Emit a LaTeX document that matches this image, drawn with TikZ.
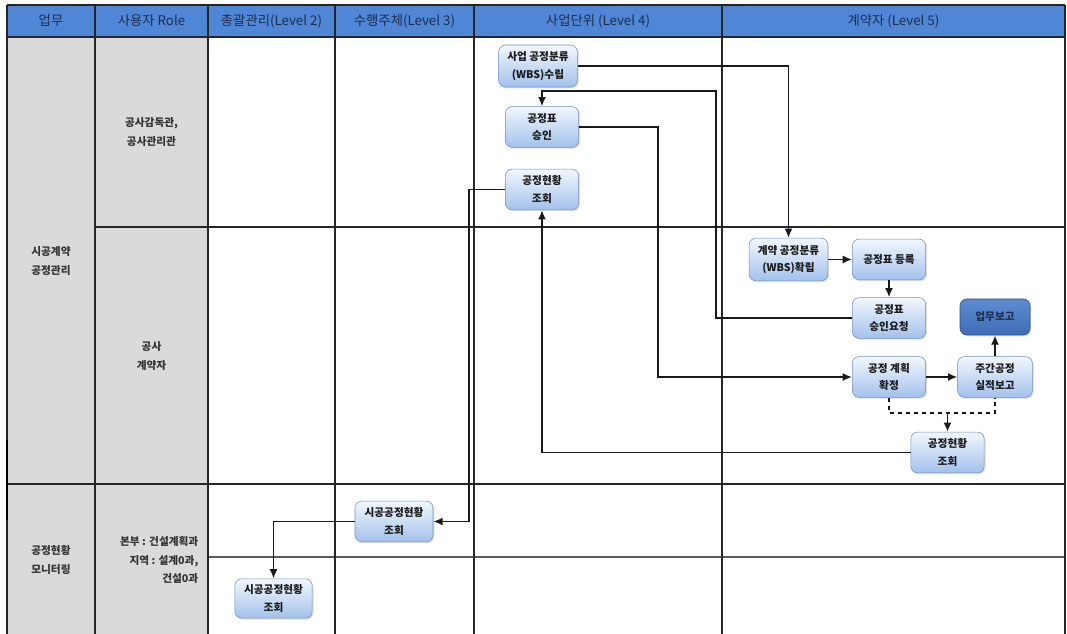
\documentclass[tikz,border=0pt]{standalone}
\usepackage{fontspec}
\setmainfont{Noto Sans CJK KR}
\usetikzlibrary{arrows.meta,shadows,positioning}
\definecolor{headblue}{HTML}{4F86D6}
\definecolor{headtext}{HTML}{1F2D4D}
\definecolor{rolegrey}{HTML}{DADADA}
\definecolor{boxtop}{HTML}{F2F7FD}
\definecolor{boxbot}{HTML}{A3C1EC}
\definecolor{boxedge}{HTML}{6F8FBE}
\definecolor{reptop}{HTML}{5E8CD2}
\definecolor{repbot}{HTML}{3F6CB4}
\definecolor{repedge}{HTML}{2E4E80}
\tikzset{
    lane-head/.style = {text=headtext, font=\fontsize{10}{12}\selectfont},
    role-label/.style = {align=center, text=black!80, font=\fontsize{8}{14}\selectfont\bfseries},
    proc-box/.style = {draw=boxedge, rounded corners=5pt, top color=boxtop, bottom color=boxbot, align=center, inner sep=2pt, minimum width=55pt, minimum height=30.5pt, text=black!90, font=\fontsize{8}{13}\selectfont\bfseries, drop shadow={opacity=0.25, shadow xshift=1pt, shadow yshift=-1pt}},
    report-box/.style = {proc-box, draw=repedge, top color=reptop, bottom color=repbot, text=headtext, minimum width=52.5pt, minimum height=27pt},
    table-line/.style = {draw=black!85, line width=0.9pt},
    flow/.style = {draw=black!90, line width=1.4pt, -{Latex[length=7pt,width=6pt]}},
    flow-dash/.style = {draw=black!90, line width=1.4pt, dashed},
}
\begin{document}
\begin{tikzpicture}[x=0.75pt, y=-0.75pt]
\useasboundingbox (0,0) rectangle (1067,634);
% table
\fill[headblue] (7,5) rectangle (1065,37);
\fill[rolegrey] (7,37) rectangle (208,634);
\draw[table-line] (7,5) -- (1065,5);
\draw[table-line] (7,37) -- (1065,37);
\draw[table-line] (95,227) -- (1065,227);
\draw[table-line] (7,484) -- (1065,484);
\draw[table-line, draw=black!65, line width=1.3pt] (208,557) -- (1065,557);
\foreach \x in {7,95,208,335,474,722,1065}
    \draw[table-line] (\x,5) -- (\x,634);
\draw[line width=2pt] (7,440) -- (7,520);
% header
\foreach \x/\txt/\nm in {51/업무/h-task, 151.5/사용자 Role/h-role, 271.5/총괄관리(Level 2)/h-lv2, 404.5/수행주체(Level 3)/h-lv3, 598/사업단위 (Level 4)/h-lv4, 893.5/계약자 (Level 5)/h-lv5}
    \node[lane-head] (\nm) at (\x,21) {\txt};
% roles
\node[role-label] (task-contract) at (51,261) {시공계약\\공정관리};
\node[role-label] (task-monitor) at (51,560) {공정현황\\모니터링};
\node[role-label] (role-super) at (151.5,132) {공사감독관,\\공사관리관};
\node[role-label] (role-contractor) at (151.5,356) {공사\\계약자};
\node[role-label, align=right, anchor=east] (role-office) at (203,560) {본부 : 건설계획과\\지역 : 설계0과,\\건설0과};
% Level 4
\node[proc-box, minimum width=59pt, minimum height=31.5pt] (wbs-plan) at (538,66) {사업 공정분류\\(WBS)수립};
\node[proc-box] (sched-ok) at (542,127) {공정표\\승인};
\node[proc-box] (status-biz) at (542,189.5) {공정현황\\조회};
% Level 5
\node[proc-box, minimum width=59pt, minimum height=32pt] (wbs-fix) at (788.5,259.5) {계약 공정분류\\(WBS)확립};
\node[proc-box] (sched-reg) at (889,259.5) {공정표 등록};
\node[proc-box] (sched-req) at (889,318) {공정표\\승인요청};
\node[report-box] (work-report) at (995,317) {업무보고};
\node[proc-box] (plan-fix) at (889,377) {공정 계획\\확정};
\node[proc-box, minimum width=56pt] (week-report) at (995,377) {주간공정\\실적보고};
\node[proc-box] (status-ctr) at (947.5,452.5) {공정현황\\조회};
% Level 3 and 2
\node[proc-box, minimum width=58.5pt] (site-status-3) at (394,521.5) {시공공정현황\\조회};
\node[proc-box, minimum width=58pt, minimum height=29.5pt] (site-status-2) at (273.5,598.5) {시공공정현황\\조회};
% connectors
\draw[flow] (wbs-plan.east) -| (wbs-fix.north);
\draw[flow] (wbs-fix.east) -- (sched-reg.west |- wbs-fix.east);
\draw[flow] (sched-reg) -- (sched-req);
\draw[flow] (sched-req.west) -| (716,91) -| (sched-ok.north);
\draw[flow] (sched-ok.east) -| (658,377) -- (plan-fix.west);
\draw[flow] (plan-fix) -- (week-report);
\draw[flow] (week-report) -- (work-report);
\coordinate (merge) at (947.5,413);
\draw[flow-dash] (plan-fix.south) |- (merge) -| (week-report.south);
\draw[flow] (merge) -- (status-ctr.north);
\draw[flow] (status-ctr.west) -| (status-biz.south);
\draw[flow] (status-biz.west) -| (469,521.5) -- (site-status-3.east);
\draw[flow] (site-status-3.west) -| (site-status-2.north);
\end{tikzpicture}
\end{document}
